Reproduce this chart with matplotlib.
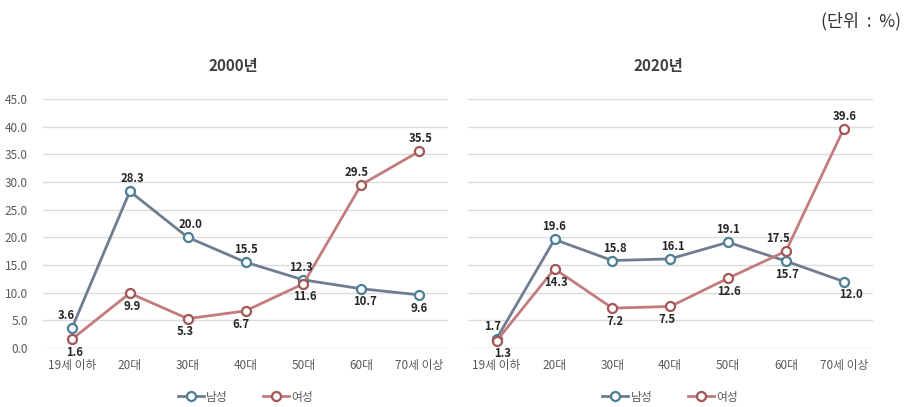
import matplotlib
matplotlib.use("Agg")
import matplotlib.pyplot as plt

plt.rcParams['font.family'] = ['Noto Sans CJK KR', 'DejaVu Sans']

categories = ['19세 이하', '20대', '30대', '40대', '50대', '60대', '70세 이상']
years = ['2000년', '2020년']
male = [
    [3.6, 28.3, 20.0, 15.5, 12.3, 10.7, 9.6],
    [1.7, 19.6, 15.8, 16.1, 19.1, 15.7, 12.0],
]
female = [
    [1.6, 9.9, 5.3, 6.7, 11.6, 29.5, 35.5],
    [1.3, 14.3, 7.2, 7.5, 12.6, 17.5, 39.6],
]
yticks = [0, 5, 10, 15, 20, 25, 30, 35, 40, 45]

# label placement: (side, x offset in points)
male_pos = [
    [('up', -4), ('up', 2), ('up', 2), ('up', 0), ('up', -2), ('down', 3), ('down', 0)],
    [('up', -3), ('up', 0), ('up', 2), ('up', 2), ('up', 0), ('down', 1), ('down', 5)],
]
female_pos = [
    [('down', 2), ('down', 2), ('down', -2), ('down', -3), ('down', 1), ('up', -3), ('up', 1)],
    [('down', 4), ('down', 1), ('down', 2), ('down', -2), ('down', 1), ('up', -6), ('up', 1)],
]

male_line = '#6F7D90'
male_edge = '#4C7F96'
female_line = '#C27C7E'
female_edge = '#A25656'
grid_col = '#DCDCDC'
tick_col = '#595959'

fig = plt.figure(figsize=(9.1, 4.07), dpi=100)
axes = [fig.add_axes([0.0473, 0.145, 0.445, 0.612]),
        fig.add_axes([0.514, 0.145, 0.445, 0.612])]

x = list(range(len(categories)))
for i, ax in enumerate(axes):
    ax.set_xlim(-0.5, len(categories) - 0.5)
    ax.set_ylim(0, 45)
    ax.set_yticks(yticks)
    for yv in yticks:
        ax.axhline(yv, color=grid_col, lw=1, zorder=0)
    for s in ax.spines.values():
        s.set_visible(False)
    ax.tick_params(length=0, colors=tick_col, labelsize=8.5)
    ax.tick_params(axis='y', pad=11)
    ax.tick_params(axis='x', pad=8)
    ax.set_xticks(x)
    ax.set_xticklabels(categories)
    if i == 0:
        ax.set_yticklabels([f'{v:.1f}' for v in yticks])
    else:
        ax.set_yticklabels([])

    ax.plot(x, male[i], color=male_line, lw=2, marker='o', ms=6.5,
            mfc='white', mec=male_edge, mew=1.6, label='남성', zorder=3)
    ax.plot(x, female[i], color=female_line, lw=2, marker='o', ms=6.5,
            mfc='white', mec=female_edge, mew=1.6, label='여성', zorder=4)

    for vals, pos in ((male[i], male_pos[i]), (female[i], female_pos[i])):
        for xi, v, (side, dx) in zip(x, vals, pos):
            dy = 9 if side == 'up' else -9.5
            ax.annotate(f'{v:.1f}', (xi, v), xytext=(dx, dy), textcoords='offset points',
                        ha='center', va='center', fontsize=8.2, fontweight='bold',
                        color='#262626', zorder=5)

    ax.set_title(years[i], fontsize=11, fontweight='bold', color='#404040', pad=20, x=0.47)
    ax.legend(loc='center', bbox_to_anchor=(0.5, -0.197), ncol=2, frameon=False,
              fontsize=8.5, handlelength=2.2, handletextpad=0.2, columnspacing=3.0,
              labelcolor=tick_col)

fig.text(0.99, 0.948, '(단위  :  %)', ha='right', va='center', fontsize=12.5, color='#333333')

fig.savefig('out.png', dpi=100)
